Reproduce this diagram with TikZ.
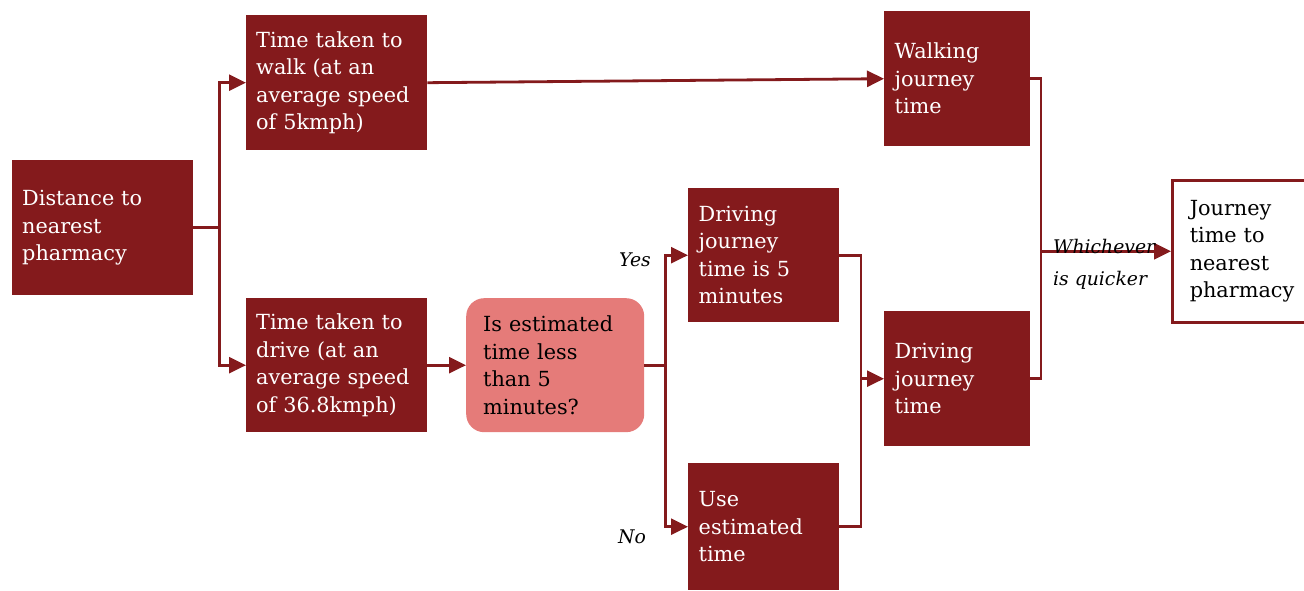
\documentclass[tikz,border=0pt]{standalone}
\usepackage{fontspec}
\setmainfont{DejaVu Serif}
\usetikzlibrary{arrows.meta}
\definecolor{wine}{HTML}{841A1C}
\definecolor{rose}{HTML}{E57B79}

\begin{document}
\begin{tikzpicture}[x=1pt,y=-1pt,
  box/.style={fill=wine, text=white, font=\fontsize{20.8}{27.5}\selectfont,
    align=left, inner xsep=10pt, inner ysep=0pt, anchor=north west},
  query/.style={box, fill=rose, text=black, rounded corners=18pt, inner xsep=17pt},
  result/.style={box, fill=white, draw=wine, line width=2.5pt, text=black, inner xsep=17pt},
  link/.style={draw=wine, line width=2.8pt},
  arr/.style={link, -{Triangle[length=17pt,width=16pt]}},
  tag/.style={font=\fontsize{18.8}{32}\selectfont\itshape, text=black, inner sep=0pt}]
\useasboundingbox (0,0) rectangle (1304,591);

% boxes
\node[box, minimum width=181, minimum height=135, text width=161] (dist) at (12,160)
  {Distance to\\nearest\\pharmacy};
\node[box, minimum width=181, minimum height=135, text width=161] (walk) at (246,15)
  {Time taken to\\walk (at an\\average speed\\of 5kmph)};
\node[box, minimum width=181, minimum height=134, text width=161] (drive) at (246,298)
  {Time taken to\\drive (at an\\average speed\\of 36.8kmph)};
\node[query, minimum width=178, minimum height=134, text width=144] (ask) at (466,298)
  {Is estimated\\time less\\than 5\\minutes?};
\node[box, minimum width=151, minimum height=134, text width=130] (five) at (688,188)
  {Driving\\journey\\time is 5\\minutes};
\node[box, minimum width=151, minimum height=127, text width=130] (est) at (688,463)
  {Use\\estimated\\time};
\node[box, minimum width=146, minimum height=135, text width=125] (walkj) at (884,11)
  {Walking\\journey\\time};
\node[box, minimum width=146, minimum height=135, text width=125] (drivej) at (884,311)
  {Driving\\journey\\time};
\node[result, minimum width=140, minimum height=142, text width=105] (final) at (1171,179)
  {Journey\\time to\\nearest\\pharmacy};

% split after the distance
\path (dist.east) ++(26,0) coordinate (s1);
\draw[link] (dist.east) -- (s1);
\draw[arr] (s1) |- (walk.west);
\draw[arr] (s1) |- (drive.west);

\draw[arr] (walk.east) -- (walkj.west);
\draw[arr] (drive.east) -- (ask.west);

% decision branches
\path (ask.east) ++(21,0) coordinate (s2);
\draw[link] (ask.east) -- (s2);
\draw[arr] (s2) |- (five.west);
\draw[arr] (s2) |- (est.west);
\node[tag] (yes) at (635,260) {Yes};
\node[tag] (no) at (632,537) {No};

% driving merge
\path (drivej.west) ++(-23,0) coordinate (m1);
\draw[link] (five.east) -| (m1);
\draw[link] (est.east) -| (m1);
\draw[arr] (m1) -- (drivej.west);

% quicker of the two
\path (final.west) ++(-130,0) coordinate (m2);
\draw[link] (walkj.east) -| (m2);
\draw[link] (drivej.east) -| (m2);
\draw[arr] (m2) -- (final.west);
\node[tag, anchor=west, align=left] (pick) at (1053,264) {Whichever\\is quicker};
\end{tikzpicture}
\end{document}
